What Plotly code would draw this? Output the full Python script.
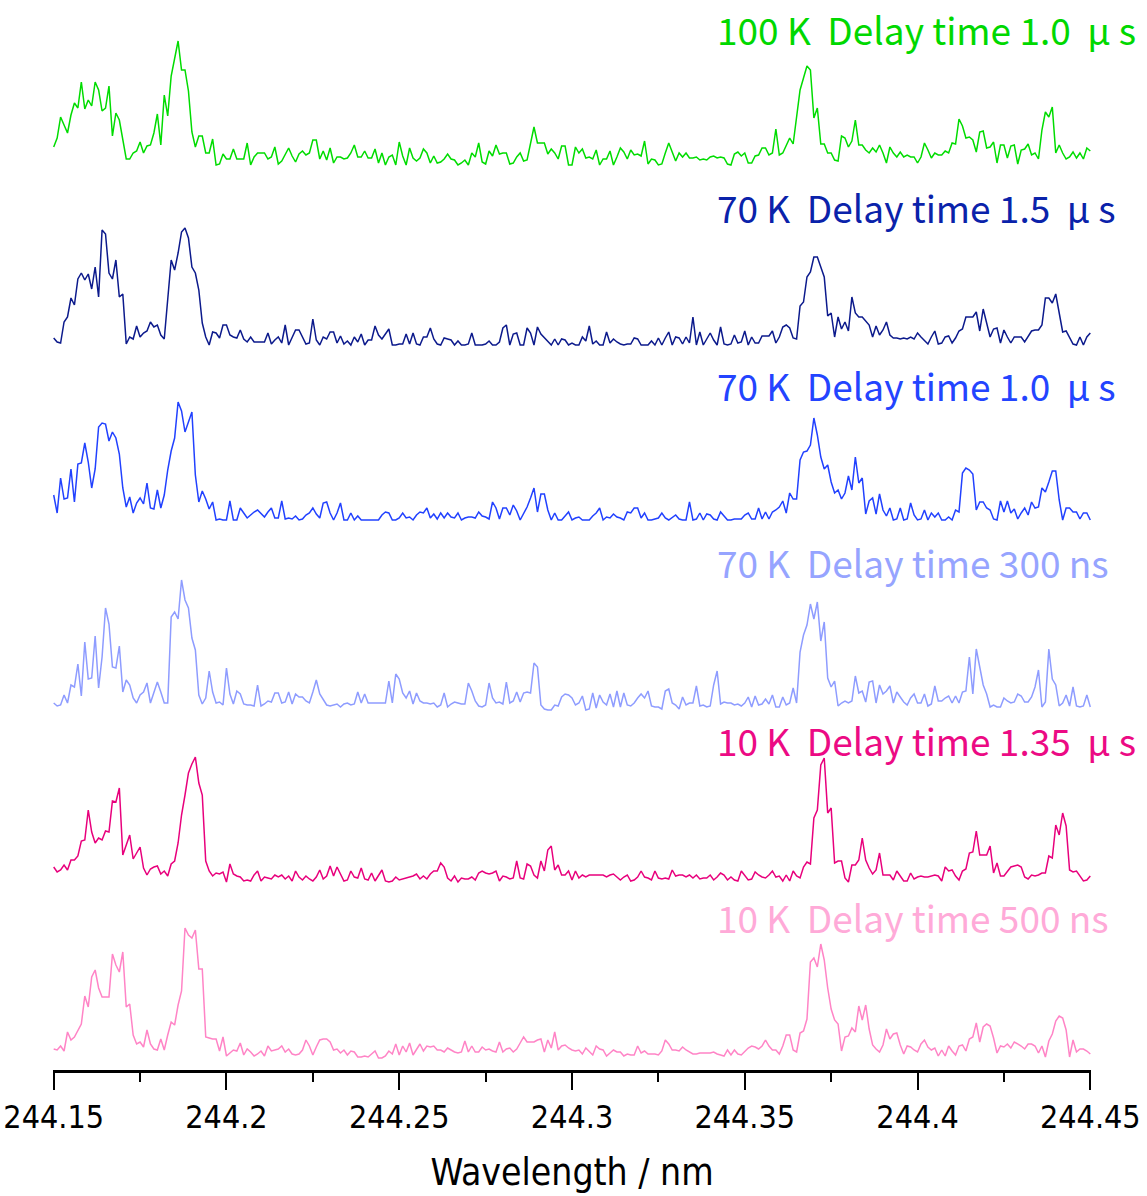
import numpy as np
import plotly.graph_objects as go

# Wavelength window (nm)
wl_start, wl_end = 244.15, 244.45

# Tick labels on the wavelength axis
tick_values = [244.15, 244.20, 244.25, 244.30, 244.35, 244.40, 244.45]
tick_labels = ["244.15", "244.2", "244.25", "244.3", "244.35", "244.4", "244.45"]

# Spectrum labels (top to bottom); non-breaking spaces keep the wide gaps
NB = "\u00a0"
labels = [
    f"100 K{NB}{NB}Delay time 1.0{NB}{NB}\u03bc{NB}s",
    f"70 K{NB}{NB}Delay time 1.5{NB}{NB}\u03bc{NB}s",
    f"70 K{NB}{NB}Delay time 1.0{NB}{NB}\u03bc{NB}s",
    f"70 K{NB}{NB}Delay time 300 ns",
    f"10 K{NB}{NB}Delay time 1.35{NB}{NB}\u03bc{NB}s",
    f"10 K{NB}{NB}Delay time 500 ns",
]

# Intensities (a.u.), 0.001 nm steps from 244.150 to 244.450 nm
int_100K_1p0us = [
    18, 27, 48, 39, 32, 50, 62, 57, 83, 56, 65, 59, 83, 75, 54, 57, 79, 29, 52, 45,
    27, 6, 6, 12, 14, 23, 12, 19, 20, 32, 51, 20, 70, 49, 89, 106, 124, 95, 95, 74,
    33, 18, 29, 29, 12, 12, 26, 0, 1, 11, 6, 6, 16, 6, 6, 6, 22, 0, 8, 12,
    12, 12, 6, 8, 18, 1, 4, 11, 17, 9, 3, 11, 14, 10, 12, 25, 25, 6, 14, 5,
    17, 2, 8, 8, 6, 7, 12, 20, 8, 8, 14, 7, 7, 16, 2, 12, 0, 8, 10, 0,
    23, 9, 0, 17, 7, 4,
    7, 16, 12, 2, 9, 2, 3, 6, 11, 6, 5, 0, 2, 5, 0, 12, 8, 22, 3, 1,
    14, 9, 20, 11, 12, 12, 1, 2, 8, 12, 4, 5, 22, 38, 22, 22, 22, 11, 16, 12,
    6, 19, 19, 0, 0, 18, 12, 16, 7, 8, 6, 15, 0, 6, 6, 14, 0, 8, 17, 13,
    6, 15, 10, 11, 9, 24, 1, 6, 5, 0, 1, 12, 22, 13, 4, 12, 8, 12, 7, 7,
    8, 5, 6, 5, 8, 9, 7, 8, 7, 1, 0, 11, 13, 9, 12, 2, 2, 9, 10, 17,
    17, 10, 12, 36,
    10, 12, 20, 27, 21, 48, 75, 87, 99, 95, 47, 57, 21, 21, 12, 12, 5, 4, 29, 27,
    18, 24, 45, 20, 20, 15, 12, 17, 13, 20, 12, 2, 18, 12, 8, 13, 8, 10, 8, 8,
    2, 8, 22, 15, 7, 12, 10, 10, 14, 12, 22, 21, 46, 39, 27, 28, 25, 13, 33, 34,
    17, 18, 23, 2, 20, 20, 7, 19, 20, 1, 15, 16, 21, 10, 12, 6, 35, 53, 48, 58,
    12, 20, 12, 6, 8, 13, 7, 12, 6, 17, 14,
]

int_70K_1p5us = [
    7, 3, 2, 23, 28, 47, 40, 66, 72, 65, 71, 56, 78, 48, 115, 111, 72, 66, 85, 48,
    51, 1, 8, 6, 19, 8, 12, 14, 23, 18, 20, 10, 6, 42, 85, 75, 92, 113, 117, 107,
    78, 72, 55, 22, 8, 0, 13, 12, 7, 20, 20, 10, 8, 7, 15, 6, 3, 8, 3, 3,
    3, 3, 12, 1, 5, 8, 2, 20, 0, 7, 15, 15, 8, 1, 2, 26, 5, 0, 8, 6,
    13, 13, 2, 9, 1, 4, 0, 8, 3, 11, 0, 5, 5, 19, 10, 6, 11, 16, 0, 0,
    1, 1, 11, 1, 12, 1,
    0, 8, 8, 17, 6, 1, 0, 7, 6, 5, 0, 4, 0, 0, 1, 12, 0, 0, 0, 1,
    4, 0, 0, 3, 17, 20, 0, 11, 12, 0, 0, 17, 12, 0, 18, 11, 7, 4, 0, 6,
    0, 6, 5, 0, 2, 0, 0, 8, 4, 19, 1, 4, 0, 0, 13, 2, 6, 3, 1, 0,
    1, 1, 7, 6, 0, 0, 0, 4, 0, 7, 0, 7, 13, 0, 8, 7, 1, 8, 2, 28,
    0, 13, 0, 6, 12, 5, 0, 18, 1, 0, 1, 10, 2, 3, 14, 0, 8, 2, 2, 9,
    9, 9, 14, 2,
    8, 18, 20, 17, 7, 6, 39, 43, 68, 73, 88, 88, 78, 68, 29, 32, 8, 28, 16, 23,
    14, 48, 32, 28, 28, 24, 20, 8, 19, 10, 15, 23, 10, 7, 7, 6, 7, 6, 8, 6,
    12, 8, 4, 1, 8, 14, 1, 2, 8, 9, 2, 7, 14, 16, 28, 28, 28, 33, 14, 36,
    21, 8, 16, 17, 2, 15, 8, 2, 8, 8, 8, 3, 9, 14, 15, 15, 20, 47, 47, 42,
    51, 33, 13, 14, 8, 1, 0, 8, 0, 8, 12,
]

int_70K_1p0us = [
    25, 7, 42, 21, 22, 51, 18, 56, 57, 77, 58, 32, 51, 93, 97, 96, 79, 88, 82, 66,
    32, 13, 23, 7, 17, 22, 16, 37, 12, 11, 30, 12, 25, 50, 69, 82, 118, 109, 88, 98,
    108, 45, 18, 29, 21, 11, 18, 0, 1, 0, 0, 19, 0, 0, 12, 7, 2,
    5, 8, 10, 7, 3, 8, 12, 2, 2,
    19, 1, 2, 1, 4, 0, 1, 5, 7, 12, 6, 2, 17, 18, 7, 0, 7, 17, 0, 0, 7, 0, 4, 0, 0, 0,
    0, 0, 0, 5, 8, 7, 0, 0, 2, 7, 2, 3, 0, 5, 8, 7, 12, 2, 6, 1, 7, 2, 7, 3, 2, 7, 0,
    2,
    3, 3, 2, 8, 4, 3, 1, 18, 12, 1, 12, 12, 5, 15, 9, 0, 6, 13, 22, 32, 8, 26, 26, 10,
    0, 7, 0, 0,
    4,
    8, 0, 2, 3, 0, 0, 0,
    4,
    7, 12, 0, 3, 2, 6, 3, 2, 0, 8, 7, 12, 12, 2, 7, 0, 0,
    1,
    2, 7, 2, 0, 3, 5, 1, 0, 0, 18, 0, 1, 7, 0, 6, 5, 1, 0, 8, 4, 0, 0,
    1,
    1, 1, 5, 7, 1, 1, 12, 1, 8, 1, 8, 10, 13, 19, 7, 27, 21, 21, 60, 68,
    69, 75, 102, 85, 63, 51, 55, 38, 27, 30, 21, 27, 44, 30, 63, 37, 42, 6, 19, 22,
    6, 26, 10, 4, 12, 0, 1, 12, 0, 1, 17, 5, 0, 1, 10, 0, 7, 3, 7, 0,
    0, 3, 0, 10, 8, 47, 52, 50, 46, 10, 18, 18, 12, 10, 1, 0, 19, 8, 19, 7,
    11, 1, 7, 12, 5, 18, 12, 13, 32, 28, 38, 49, 49, 20, 0, 12, 12, 8, 8, 1,
    7, 7, 0,
]

int_70K_300ns = [
    7, 4, 5, 15, 7, 25, 23, 46, 14, 68, 31, 32, 74, 22, 53, 102, 86, 43, 42, 64,
    18, 30, 25, 12, 7, 15, 18, 27, 7, 17, 28, 18, 7, 7, 93, 98, 91, 130, 110, 102,
    72, 60, 15, 6, 12, 39, 18, 7, 8, 5, 42, 16, 6, 19, 16, 6, 5, 5, 4, 25, 4,
    6,
    9, 8, 17, 17, 7, 8, 18, 6, 16, 13, 13, 9, 7, 18, 30, 16, 10, 5, 4, 5,
    6, 3, 6, 7, 5, 6, 18, 7, 16, 7, 7, 7, 7, 7, 7, 29, 7, 36, 31, 17,
    12, 19, 6, 17, 9, 7, 7, 6, 7, 3,
    5,
    17, 3, 6, 8, 7, 6, 6, 27, 19, 9, 4, 3, 5, 27, 12, 7, 8, 6, 28, 7,
    9, 18, 8, 17, 18, 17, 47, 43, 5, 1, 0, 0, 5, 4, 13, 16, 15, 12, 5, 7, 14, 0,
    1,
    17, 2, 15, 8, 5, 16, 3, 19, 3, 17, 5, 4, 7, 12, 16, 12, 19, 4,
    3,
    3, 1, 19, 21, 7, 5, 1, 13, 5, 7, 7, 24, 4, 5, 3, 4, 25, 39, 6, 8,
    7, 7, 5, 6, 4, 7, 13, 3, 14, 5,
    6,
    11, 6, 15, 3, 3, 13, 5, 7, 22, 7, 58, 75, 85, 106, 91, 108, 69, 88, 32, 23,
    29, 4, 7, 9, 7, 9, 34, 17, 19, 8, 28, 29, 7, 25, 16, 19, 24, 7, 18, 13,
    8,
    5, 12, 16, 7, 7, 16, 4, 6, 24, 9, 9, 12, 14, 7, 14, 7, 18, 19, 53, 16,
    61, 43, 25, 16, 3, 5, 3, 3, 12, 9, 7, 8, 16, 14, 8, 8, 13, 23, 40, 3,
    8, 61, 31, 25, 4, 7, 15, 4, 23, 4, 3, 4, 15, 3,
]

int_10K_1p35us = [
    15, 10, 12, 17, 12, 22, 22, 26, 41, 42, 72, 50, 39, 44, 42, 51, 50, 81, 80, 94, 27,
    38,
    47, 23, 29, 35, 14, 7, 13, 15, 16, 8, 11, 6, 18, 21, 39, 67, 87, 109, 118, 125,
    99, 87, 21, 11, 6, 9, 8, 10, 0, 18, 8, 6, 5, 1, 2, 1, 7, 11, 1, 5,
    4,
    3, 7, 5, 7, 3, 6, 1, 11, 5, 2, 6, 3, 1, 5, 12, 3, 6, 16, 6, 15,
    8,
    1, 2, 11, 5, 4, 14, 3, 2, 9, 1, 7, 12, 1, 0, 1, 5, 2, 3, 4, 5,
    6,
    8, 3, 6, 3, 8, 11, 11, 19, 15, 4, 1, 6, 0, 4, 3, 3, 5, 2, 9, 11,
    9,
    8, 9, 11, 1, 6, 5, 3, 4, 21, 4, 3, 18, 16, 7, 4, 21, 11, 32, 36, 12,
    17, 7, 7, 11, 2, 11, 4, 7, 5, 7,
    7,
    7, 7, 7, 5, 7, 8, 5, 2, 5, 7, 1, 2, 5, 11, 5,
    4,
    2, 11, 4, 3, 4, 3, 12, 6, 7, 7, 5, 7, 4, 7, 3,
    4,
    4, 7, 2, 5, 9, 7, 2, 5, 2, 1, 11, 7, 2, 3, 10,
    7,
    5, 4, 7, 11, 5, 6, 1, 7, 1, 11,
    6,
    4, 15, 20, 18, 64, 72, 117, 124, 69, 74, 19, 21, 21, 4, 0, 17, 17, 22, 44, 22,
    14,
    8, 12, 29, 7, 7, 7, 2, 11, 6, 1, 1, 9, 3, 5, 6,
    5,
    5, 6, 7, 6, 1, 15, 11, 12,
    6,
    2, 11, 13, 29, 30, 51, 27, 27, 27, 36, 9, 19, 6, 6,
    10,
    15, 16, 17, 15, 5, 3, 7, 6,
    7,
    9, 9, 26, 24, 57, 47, 69, 56, 12, 10, 11, 6, 1, 2, 6,
]

int_10K_500ns = [
    9, 8, 12, 7, 26, 18, 21, 27, 34, 62, 51, 81, 88, 70, 61, 61, 61, 104, 93, 86,
    106, 51, 54, 23, 14, 16, 11, 28, 14, 9, 8, 19, 8, 23, 36, 33, 53, 67, 130, 123,
    120, 128, 89, 89, 21, 20, 19, 19, 7, 21, 2,
    5,
    8, 7, 15, 3, 9, 6, 2, 4, 7, 2, 12, 7,
    8,
    9, 12, 6, 9, 4, 3, 4, 8, 18, 12, 3, 11, 18,
    19,
    19, 16, 8, 9, 5, 8, 3, 7, 6, 1, 1, 2, 1,
    4,
    7, 0, 0, 2, 7, 4, 14, 3, 12, 6, 15, 3,
    8,
    14, 7, 12, 11, 12, 8, 8, 6, 10, 8,
    6,
    5, 6, 17, 6, 12, 6, 6, 11, 8, 9,
    7,
    6, 16, 6, 9, 10, 6, 9, 15, 21, 16,
    16,
    16, 18, 19, 6, 18, 10, 26, 8, 12, 13,
    10,
    8, 7, 8, 4, 10,
    6,
    3, 12, 9, 8, 2,
    5,
    8, 6, 6, 2, 4,
    3,
    3, 12, 5, 7, 4,
    4,
    4, 3, 7, 18, 14, 8, 8, 7, 11, 8,
    6,
    4, 4, 5, 5, 5, 5, 6, 4,
    3,
    2, 8, 3, 8, 4, 3, 7,
    10,
    12, 11, 9, 12, 18,
    12,
    8, 8, 4, 12, 23, 23, 8, 6, 25, 27, 39, 96, 100, 91, 114, 98, 70, 49, 38, 34,
    7, 21, 22, 30, 26, 52, 38, 53, 29, 13,
    9,
    6, 13, 29, 19, 24, 25, 13, 4, 12, 11,
    8,
    6, 14, 18, 11, 8, 10, 2, 8, 2, 12,
    7,
    3, 12, 13, 7, 19, 21, 35, 16, 31, 34, 32, 20, 5, 12, 11, 14, 10, 16,
    14,
    12, 9, 14, 14, 12, 5, 12, 1, 17, 24, 37, 42, 40, 28, 1, 18, 6, 9, 9, 7, 4,
]

spectra = [int_100K_1p0us, int_70K_1p5us, int_70K_1p0us,
           int_70K_300ns, int_10K_1p35us, int_10K_500ns]

# Vertical stacking offsets and label heights for each spectrum
offsets = [905, 725, 550, 360, 188, 12]
label_y = [1041, 863, 685, 508, 330, 153]
colors = ["#00dc00", "#0c1a8c", "#2141ff", "#8e9cff", "#e8007c", "#ff84c6"]
label_colors = ["#00d800", "#0a22aa", "#2344ff", "#96a4ff", "#ec0a84", "#ffaad8"]
label_x = 244.3415

fig = go.Figure()
for vals, off, col in zip(spectra, offsets, colors):
    vals = np.asarray(vals, dtype=float)
    wl = np.linspace(wl_start, wl_end, len(vals))
    fig.add_trace(go.Scatter(
        x=wl, y=vals + off, mode="lines",
        line=dict(color=col, width=1.5), showlegend=False,
        hoverinfo="skip",
    ))

for text, ly, col in zip(labels, label_y, label_colors):
    fig.add_annotation(
        x=label_x, y=ly, xref="x", yref="y", text=text, showarrow=False,
        xanchor="left", yanchor="middle",
        font=dict(family="Noto Sans CJK JP", size=37, color=col),
    )

axis_font = "DejaVu Sans Condensed, sans-serif"
pad = 0.0002
fig.update_layout(
    width=1147, height=1196,
    margin=dict(l=53, r=56, t=0, b=126),
    paper_bgcolor="white", plot_bgcolor="white",
    xaxis=dict(
        range=[wl_start - pad, wl_end + pad],
        tickvals=tick_values, ticktext=tick_labels,
        ticks="outside", ticklen=17, tickwidth=2, tickcolor="black",
        minor=dict(ticks="outside", ticklen=9, tickwidth=2, tickcolor="black",
                   tickvals=[244.175, 244.225, 244.275, 244.325, 244.375, 244.425],
                   showgrid=False),
        showline=True, linecolor="black", linewidth=3,
        showgrid=False, zeroline=False,
        tickfont=dict(family=axis_font, size=32, color="black"),
        title=dict(text="Wavelength / nm", standoff=24,
                   font=dict(family=axis_font, size=37, color="black")),
    ),
    yaxis=dict(range=[0, 1070], visible=False, showgrid=False, zeroline=False),
)

fig.write_html("out.html")
